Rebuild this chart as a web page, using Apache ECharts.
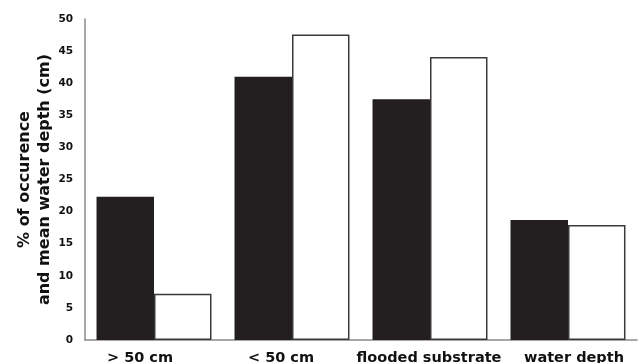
<!DOCTYPE html>
<html><head><meta charset="utf-8">
<script src="https://cdn.jsdelivr.net/npm/echarts@6/dist/echarts.min.js"></script>
<style>html,body{margin:0;padding:0;background:#fff}#c{width:641px;height:363px}</style>
</head><body><div id="c"></div>
<script>
var categories = ['> 50 cm', '< 50 cm', 'flooded substrate', 'water depth'];
var blackValues = [22.3, 41.0, 37.5, 18.7];
var whiteValues = [7.2, 47.6, 44.1, 17.9];
var yTicks = [0, 5, 10, 15, 20, 25, 30, 35, 40, 45, 50];

var chart = echarts.init(document.getElementById('c'), null, {renderer: 'canvas'});
var font = '"DejaVu Sans", Verdana, sans-serif';
var labelStyle = {color: '#111', fontFamily: font, fontWeight: 'bold', fontSize: 14.5};
function rs(pad) { return Object.assign({padding: pad}, labelStyle); }
chart.setOption({
  animation: false,
  grid: {left: 85, top: 19, right: 4, bottom: 23, containLabel: false, outerBoundsMode: 'none'},
  xAxis: {
    type: 'category', data: categories,
    axisLine: {lineStyle: {color: '#8a8a8a', width: 1.5}},
    axisTick: {show: false},
    axisLabel: Object.assign({
      margin: 11, interval: 0,
      formatter: function (v, i) { return '{c' + i + '|' + v + '}'; },
      rich: {c0: rs([0, 28, 0, 0]), c1: rs([0, 22, 0, 0]), c2: rs([0, 2, 0, 0]), c3: rs([0, 0, 0, 12])}
    }, labelStyle)
  },
  yAxis: {
    type: 'value', min: yTicks[0], max: yTicks[yTicks.length - 1], interval: 5,
    name: '% of occurence\nand mean water depth (cm)',
    nameLocation: 'middle', nameRotate: 90, nameGap: 30, nameMoveOverlap: false,
    nameTextStyle: {color: '#111', fontFamily: font, fontWeight: 'bold', fontSize: 16, lineHeight: 20},
    axisLine: {show: true, lineStyle: {color: '#8a8a8a', width: 1.5}},
    axisTick: {show: false},
    splitLine: {show: false},
    axisLabel: {color: '#111', fontFamily: font, fontWeight: 'bold', fontSize: 10.5, margin: 12}
  },
  series: [
    {type: 'bar', data: blackValues, barGap: '0%', barCategoryGap: '16.7%',
     itemStyle: {color: '#231f20', borderColor: '#231f20', borderWidth: 0}},
    {type: 'bar', data: whiteValues,
     itemStyle: {color: '#ffffff', borderColor: '#3a3a3a', borderWidth: 1.5}}
  ]
});
</script></body></html>
